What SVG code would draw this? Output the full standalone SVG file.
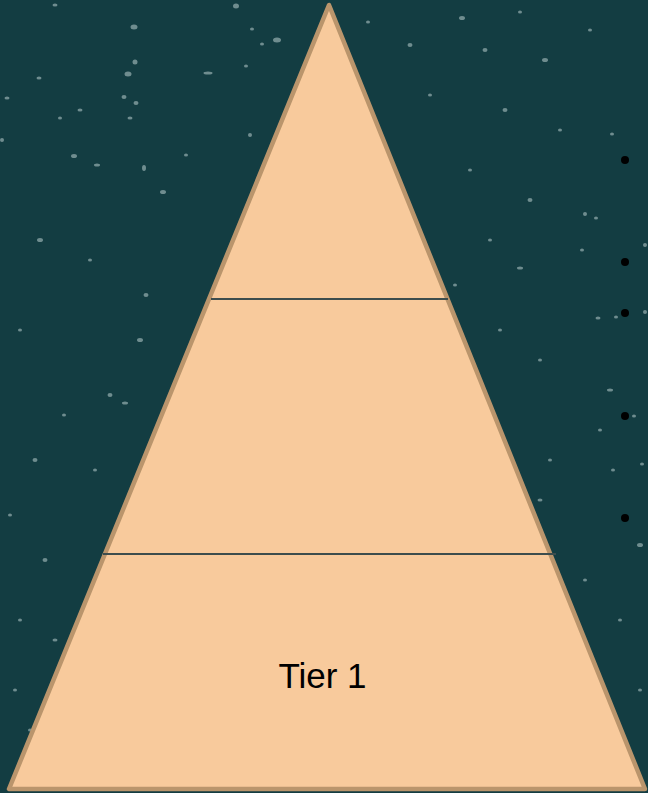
<svg xmlns="http://www.w3.org/2000/svg" width="648" height="793" viewBox="0 0 648 793">
<style>
.sp{fill:#8fa8aa;opacity:0.75}
.div{stroke:#3d4d4d;stroke-width:2}
.bul{fill:#000}
.lbl{font-family:"Liberation Sans",Arial,sans-serif;font-size:35px;fill:#000}
</style>
<rect width="648" height="793" fill="#133d42"/>
<g id="speckles">
<ellipse class="sp" cx="55" cy="5" rx="2.5" ry="1.5"/>
<ellipse class="sp" cx="134" cy="27" rx="3.5" ry="2.5"/>
<ellipse class="sp" cx="236" cy="6" rx="3" ry="2.5"/>
<ellipse class="sp" cx="252" cy="29" rx="2" ry="1.5"/>
<ellipse class="sp" cx="277" cy="40" rx="4" ry="2.5"/>
<ellipse class="sp" cx="128" cy="74" rx="3.5" ry="2.5"/>
<ellipse class="sp" cx="135" cy="62" rx="2.5" ry="2.5"/>
<ellipse class="sp" cx="208" cy="73" rx="4.5" ry="1.5"/>
<ellipse class="sp" cx="39" cy="78" rx="2.5" ry="1.5"/>
<ellipse class="sp" cx="7" cy="98" rx="2.5" ry="1.5"/>
<ellipse class="sp" cx="124" cy="97" rx="2.5" ry="2"/>
<ellipse class="sp" cx="136" cy="103" rx="2.5" ry="2"/>
<ellipse class="sp" cx="130" cy="118" rx="2.5" ry="1.5"/>
<ellipse class="sp" cx="80" cy="110" rx="2.5" ry="1.5"/>
<ellipse class="sp" cx="74" cy="156" rx="3" ry="2"/>
<ellipse class="sp" cx="97" cy="165" rx="3" ry="1.5"/>
<ellipse class="sp" cx="144" cy="168" rx="2" ry="3"/>
<ellipse class="sp" cx="163" cy="192" rx="3" ry="2"/>
<ellipse class="sp" cx="186" cy="155" rx="2" ry="1.5"/>
<ellipse class="sp" cx="250" cy="135" rx="2" ry="2"/>
<ellipse class="sp" cx="246" cy="66" rx="2" ry="1.5"/>
<ellipse class="sp" cx="262" cy="44" rx="2" ry="1.5"/>
<ellipse class="sp" cx="60" cy="118" rx="2" ry="1.5"/>
<ellipse class="sp" cx="2" cy="140" rx="2" ry="2"/>
<ellipse class="sp" cx="40" cy="240" rx="3" ry="2"/>
<ellipse class="sp" cx="90" cy="260" rx="2" ry="1.5"/>
<ellipse class="sp" cx="146" cy="295" rx="2.5" ry="2"/>
<ellipse class="sp" cx="20" cy="330" rx="2" ry="1.5"/>
<ellipse class="sp" cx="140" cy="340" rx="3" ry="2"/>
<ellipse class="sp" cx="110" cy="395" rx="2.5" ry="2"/>
<ellipse class="sp" cx="125" cy="403" rx="3" ry="1.5"/>
<ellipse class="sp" cx="64" cy="415" rx="2" ry="1.5"/>
<ellipse class="sp" cx="35" cy="460" rx="2.5" ry="2"/>
<ellipse class="sp" cx="95" cy="470" rx="2" ry="1.5"/>
<ellipse class="sp" cx="10" cy="515" rx="2" ry="1.5"/>
<ellipse class="sp" cx="45" cy="560" rx="2.5" ry="2"/>
<ellipse class="sp" cx="20" cy="620" rx="2" ry="1.5"/>
<ellipse class="sp" cx="55" cy="640" rx="2.5" ry="1.5"/>
<ellipse class="sp" cx="15" cy="690" rx="2" ry="1.5"/>
<ellipse class="sp" cx="30" cy="730" rx="2" ry="1.5"/>
<ellipse class="sp" cx="368" cy="22" rx="2" ry="1.5"/>
<ellipse class="sp" cx="410" cy="45" rx="2.5" ry="2"/>
<ellipse class="sp" cx="462" cy="18" rx="3" ry="2"/>
<ellipse class="sp" cx="485" cy="50" rx="2.5" ry="2"/>
<ellipse class="sp" cx="520" cy="12" rx="2" ry="1.5"/>
<ellipse class="sp" cx="545" cy="60" rx="3" ry="2"/>
<ellipse class="sp" cx="590" cy="30" rx="2" ry="1.5"/>
<ellipse class="sp" cx="430" cy="95" rx="2" ry="1.5"/>
<ellipse class="sp" cx="505" cy="110" rx="2.5" ry="2"/>
<ellipse class="sp" cx="560" cy="130" rx="2" ry="1.5"/>
<ellipse class="sp" cx="612" cy="134" rx="2" ry="1.5"/>
<ellipse class="sp" cx="470" cy="170" rx="2" ry="1.5"/>
<ellipse class="sp" cx="530" cy="200" rx="2.5" ry="2"/>
<ellipse class="sp" cx="585" cy="214" rx="2" ry="2"/>
<ellipse class="sp" cx="582" cy="250" rx="2" ry="1.5"/>
<ellipse class="sp" cx="596" cy="218" rx="2" ry="1.5"/>
<ellipse class="sp" cx="645" cy="245" rx="2" ry="2"/>
<ellipse class="sp" cx="490" cy="240" rx="2" ry="1.5"/>
<ellipse class="sp" cx="520" cy="268" rx="3" ry="1.5"/>
<ellipse class="sp" cx="455" cy="285" rx="2" ry="1.5"/>
<ellipse class="sp" cx="598" cy="318" rx="2.5" ry="1.5"/>
<ellipse class="sp" cx="616" cy="317" rx="2" ry="1.5"/>
<ellipse class="sp" cx="645" cy="312" rx="2" ry="2"/>
<ellipse class="sp" cx="500" cy="330" rx="2" ry="1.5"/>
<ellipse class="sp" cx="540" cy="360" rx="2" ry="1.5"/>
<ellipse class="sp" cx="610" cy="390" rx="3" ry="1.5"/>
<ellipse class="sp" cx="480" cy="420" rx="2" ry="1.5"/>
<ellipse class="sp" cx="634" cy="416" rx="2" ry="1.5"/>
<ellipse class="sp" cx="600" cy="430" rx="2" ry="1.5"/>
<ellipse class="sp" cx="550" cy="460" rx="2" ry="1.5"/>
<ellipse class="sp" cx="613" cy="470" rx="2" ry="1.5"/>
<ellipse class="sp" cx="642" cy="464" rx="2" ry="1.5"/>
<ellipse class="sp" cx="540" cy="500" rx="2.5" ry="1.5"/>
<ellipse class="sp" cx="640" cy="545" rx="3" ry="2"/>
<ellipse class="sp" cx="585" cy="580" rx="2" ry="1.5"/>
<ellipse class="sp" cx="620" cy="620" rx="2" ry="1.5"/>
<ellipse class="sp" cx="640" cy="690" rx="2" ry="1.5"/>
</g>
<g id="pyramid">
<polygon points="329,5 9,789 645,789" fill="#f8ca9c" stroke="#ba956c" stroke-width="4.5" stroke-linejoin="round"/>
</g>
<g id="connectors">
<line class="div" x1="211" y1="299" x2="448" y2="299"/>
<line class="div" x1="103" y1="554" x2="556" y2="554"/>
</g>
<g id="tier1">
<text class="lbl" x="322.5" y="688" text-anchor="middle">Tier 1</text>
</g>
<g id="bullets">
<circle class="bul" cx="625" cy="160" r="4"/>
<circle class="bul" cx="625" cy="262" r="4"/>
<circle class="bul" cx="625" cy="313" r="4"/>
<circle class="bul" cx="625" cy="416" r="4"/>
<circle class="bul" cx="625" cy="518" r="4"/>
</g>
</svg>
